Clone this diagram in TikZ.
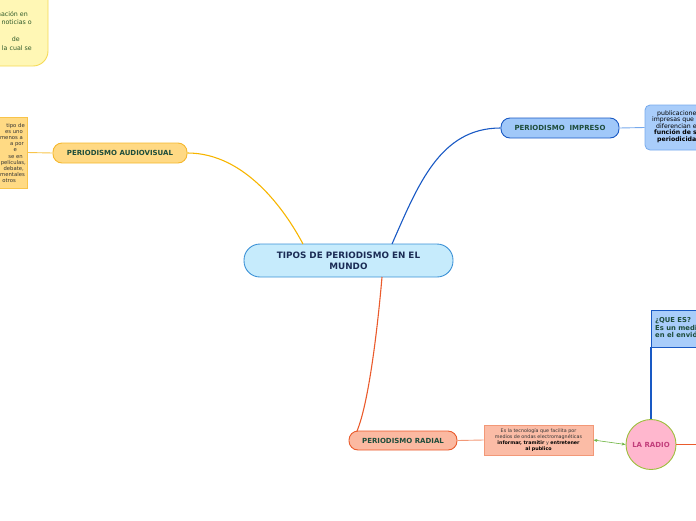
\documentclass[tikz,border=0pt]{standalone}
\usepackage{fontspec}
\setmainfont{DejaVu Sans}
\usetikzlibrary{arrows.meta}
\definecolor{cenfill}{HTML}{C6EBFC}\definecolor{cenline}{HTML}{3B91D6}\definecolor{centext}{HTML}{1B2C55}
\definecolor{avfill}{HTML}{FFD984}\definecolor{avline}{HTML}{F5B82E}\definecolor{avcurve}{HTML}{F7B500}
\definecolor{nodetext}{HTML}{1E4D3B}
\definecolor{imfill}{HTML}{A0C8F9}\definecolor{imline}{HTML}{1959C4}
\definecolor{rafill}{HTML}{FBB9A1}\definecolor{raline}{HTML}{EA5B2C}
\definecolor{pkfill}{HTML}{FFB7CE}\definecolor{pkline}{HTML}{9CBF3B}\definecolor{pktext}{HTML}{C23E7B}
\definecolor{ylfill}{HTML}{FFF7B5}\definecolor{ylline}{HTML}{F5DA55}\definecolor{yltext}{HTML}{2F5A2A}
\definecolor{lbfill}{HTML}{FFDA84}\definecolor{lbline}{HTML}{F8C44A}
\definecolor{ibfill}{HTML}{A9CDFA}\definecolor{ibline}{HTML}{76A9EC}
\definecolor{rbfill}{HTML}{FBBCA6}\definecolor{rbline}{HTML}{F29877}
\definecolor{garrow}{HTML}{6CB33F}
\definecolor{smalltext}{HTML}{333333}
\tikzset{
  mainnode/.style={draw, line width=0.9pt, inner sep=0pt, font=\fontsize{7}{8.5}\selectfont\bfseries, text=nodetext},
  txt/.style={inner sep=0pt, font=\fontsize{6.3}{7}\selectfont},
  conn/.style={line width=1.1pt},
}
\begin{document}
\begin{tikzpicture}[x=1pt,y=-1pt]
\useasboundingbox (0,0) rectangle (696,520);
\clip (0,0) rectangle (696,520);
% top-left yellow box
\node[draw=ylline, fill=ylfill, line width=0.9pt, rounded corners=15pt, minimum width=90pt, minimum height=100pt, inner sep=0pt] (yb) at (3,16) {};
\node[txt, text=yltext, anchor=base east] (y1) at (28,16.5) {información en};
\node[txt, text=yltext, anchor=base east] (y2) at (32,24.5) {de noticias o};
\node[txt, text=yltext, anchor=base east] (y3) at (20,41.5) {de};
\node[txt, text=yltext, anchor=base east] (y4) at (32,50) {la cual se};
% left orange box
\node[draw=lbline, fill=lbfill, line width=0.8pt, minimum width=80pt, minimum height=71pt, inner sep=0pt] (lb) at (-13,152.5) {};
\begin{scope}[every node/.style={txt, text=smalltext, font=\fontsize{5.3}{6}\selectfont, anchor=base east}]
\node (l1) at (25,127) {tipo de};
\node (l2) at (23,133.2) {es uno};
\node (l3) at (23,139.4) {menos a};
\node (l4) at (24,145.6) {a por};
\node (l5) at (17,151.8) {e};
\node (l6) at (23,158) {se en};
\node (l7) at (26,164.2) {películas,};
\node (l8) at (24,170.4) {debate,};
\node (l9) at (25,176.6) {documentales};
\node (l10) at (16,182.8) {otros};
\end{scope}
% main nodes
\node[mainnode, draw=cenline, fill=cenfill, text=centext, rounded corners=16pt, minimum width=209pt, minimum height=33pt, align=center, font=\fontsize{8.8}{11}\selectfont\bfseries] (cen) at (348.5,260.5) {TIPOS DE PERIODISMO EN EL\\MUNDO};
\node[mainnode, draw=avline, fill=avfill, rounded corners=9pt, minimum width=134pt, minimum height=20pt] (av) at (120,153) {PERIODISMO AUDIOVISUAL};
\node[mainnode, draw=imline, fill=imfill, rounded corners=9pt, minimum width=118pt, minimum height=20pt] (im) at (560,128) {PERIODISMO\ \ IMPRESO};
\node[mainnode, draw=raline, fill=rafill, rounded corners=9pt, minimum width=108pt, minimum height=19pt] (ra) at (403,440.5) {PERIODISMO RADIAL};
% impreso text box
\node[draw=ibline, fill=ibfill, line width=0.8pt, rounded corners=5pt, minimum width=90pt, minimum height=45pt, inner sep=0pt] (ib) at (690,127.5) {};
\begin{scope}[every node/.style={txt, text=black, font=\fontsize{6.2}{7}\selectfont, anchor=base west}]
\node (i1) at (657,115) {publicaciones};
\node (i2) at (652,121.5) {impresas que se};
\node (i3) at (656,128) {diferencian en};
\node[font=\fontsize{6.2}{7}\selectfont\bfseries] (i4) at (654,134.5) {función de su};
\node[font=\fontsize{6.2}{7}\selectfont\bfseries] (i5) at (657,141) {periodicidad};
\end{scope}
% radial text box
\node[draw=rbline, fill=rbfill, line width=0.8pt, minimum width=109pt, minimum height=30pt, inner sep=0pt, align=center, font=\fontsize{4.8}{6.2}\selectfont, text=smalltext] (rb) at (538.5,440) {Es la tecnología que facilita por\\medios de ondas electromagnéticas\\\textcolor{black}{\bfseries informar, tramitir} y \textcolor{black}{\bfseries entretener}\\\textcolor{black}{\bfseries al publico}};
% LA RADIO
\node[circle, draw=pkline, fill=pkfill, line width=0.9pt, minimum size=50pt, inner sep=0pt, font=\fontsize{7}{8}\selectfont\bfseries, text=pktext] (rad) at (651,444.5) {LA RADIO};
% QUE ES box
\node[draw=imline, fill=ibfill, line width=0.9pt, minimum width=100pt, minimum height=37pt, inner sep=0pt] (qb) at (701,328.5) {};
\begin{scope}[every node/.style={txt, text=nodetext, font=\fontsize{6.8}{8}\selectfont\bfseries, anchor=base west}]
\node (q1) at (655,322.5) {¿QUE ES?};
\node (q2) at (655,330) {Es un medio};
\node (q3) at (655,337.5) {en el envió de};
\end{scope}
\coordinate (rend) at (700,444.5);
% connectors
\draw[conn, avcurve] (av.east) .. controls (245,153) and (285,210) .. (303,244);
\draw[conn, imline] (392,244) .. controls (418,185) and (440,128) .. (im.west);
\draw[conn, raline] (382,277) .. controls (377,335) and (368,405) .. (357,431);
\draw[line width=0.9pt, lbline] (lb.east) -- (av.west);
\draw[line width=0.9pt, ibline] (im.east) -- (ib.west);
\draw[line width=0.9pt, rbline] (ra.east) -- (rb.west);
\draw[line width=0.6pt, garrow, {Stealth[length=4pt,width=3pt]}-{Stealth[length=4pt,width=3pt]}] (rb.east) -- (rad.west);
\draw[line width=1.1pt, imline] (rad.north) -- (rad.north |- qb.south);
\draw[line width=1.1pt, raline] (rad.east) -- (rend);
\end{tikzpicture}
\end{document}
